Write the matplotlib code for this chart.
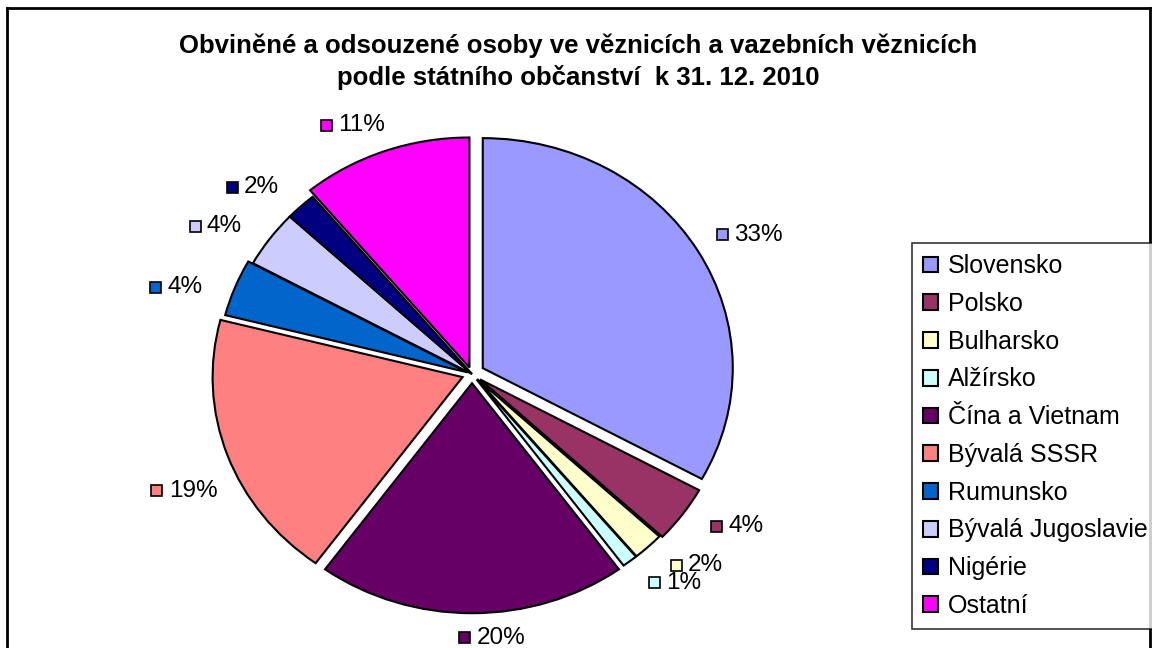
import numpy as np
import matplotlib
matplotlib.use("Agg")
import matplotlib.pyplot as plt
from matplotlib.lines import Line2D
from matplotlib.patches import Rectangle
from matplotlib.offsetbox import DrawingArea, TextArea, HPacker, AnnotationBbox

plt.rcParams['font.family'] = ['Liberation Sans', 'DejaVu Sans']

# data
countries = ['Slovensko', 'Polsko', 'Bulharsko', 'Alžírsko', 'Čína a Vietnam',
             'Bývalá SSSR', 'Rumunsko', 'Bývalá Jugoslavie', 'Nigérie', 'Ostatní']
shares = [33, 4, 2, 1, 20, 19, 4, 4, 2, 11]
colors = ['#9999FF', '#993366', '#FFFFCC', '#CCFFFF', '#660066',
          '#FF8080', '#0066CC', '#CCCCFF', '#000080', '#FF00FF']
explode = [0.05, 0.04, 0.03, 0.03, 0.04, 0.04, 0.02, 0.0, 0.0, 0.03]
title = ('Obviněné a odsouzené osoby ve věznicích a vazebních věznicích\n'
         'podle státního občanství  k 31. 12. 2010')

W, H = 1152, 648
fig = plt.figure(figsize=(W / 100, H / 100), dpi=100)

# pie axes (slightly wider than tall, like the original)
cx, cy, rx, ry = 472, 374, 250, 230
lim = 1.25
ax = fig.add_axes([(cx - lim * rx) / W, (H - cy - lim * ry) / H,
                   2 * lim * rx / W, 2 * lim * ry / H])
wedges, _ = ax.pie(shares, colors=colors, explode=explode, startangle=90,
                   counterclock=False,
                   wedgeprops=dict(edgecolor='black', linewidth=1.5))
ax.set_aspect('auto')
ax.set_xlim(-lim, lim)
ax.set_ylim(-lim, lim)
ax.axis('off')

# data labels: small colour key + percentage, centred outside each slice
for w, v, c, e in zip(wedges, shares, colors, explode):
    mid = np.deg2rad((w.theta1 + w.theta2) / 2)
    upper_right = np.cos(mid) > 0 and np.sin(mid) > 0
    ang = mid + np.deg2rad(-2 if upper_right else 4)
    r = 1.10 + e + 0.13 * abs(np.cos(ang))
    xy = (r * np.cos(ang), r * np.sin(ang))
    da = DrawingArea(9, 9, 0, 0)
    da.add_artist(Rectangle((0.5, 0.5), 8, 8, facecolor=c, edgecolor='black', linewidth=1.2))
    ta = TextArea(f'{v}%', textprops=dict(fontsize=17.5))
    box = HPacker(children=[da, ta], align='center', pad=0, sep=4)
    ab = AnnotationBbox(box, xy, xycoords='data', frameon=False, pad=0,
                        box_alignment=(0.5, 0.5))
    ax.add_artist(ab)

fig.text(578 / W, 1 - 62 / H, title, ha='center', va='center',
         fontsize=18.5, fontweight='bold', linespacing=1.35)

leg = fig.legend(wedges, countries, loc='upper left',
                 bbox_to_anchor=(912 / W, 1 - 243 / H), borderaxespad=0,
                 fontsize=18, frameon=True, fancybox=False, shadow=False,
                 handlelength=0.6, handleheight=0.6, handletextpad=0.4,
                 labelspacing=0.55, borderpad=0.45)
leg.get_frame().set_edgecolor('black')
leg.get_frame().set_linewidth(1.2)

# outer chart frame
for xs, ys in [([7, 7], [8, 648]), ([7, 1150], [8, 8]), ([1150, 1150], [8, 648])]:
    fig.add_artist(Line2D([x / W for x in xs], [1 - y / H for y in ys],
                          color='black', linewidth=2))

fig.savefig('out.png', dpi=100)
